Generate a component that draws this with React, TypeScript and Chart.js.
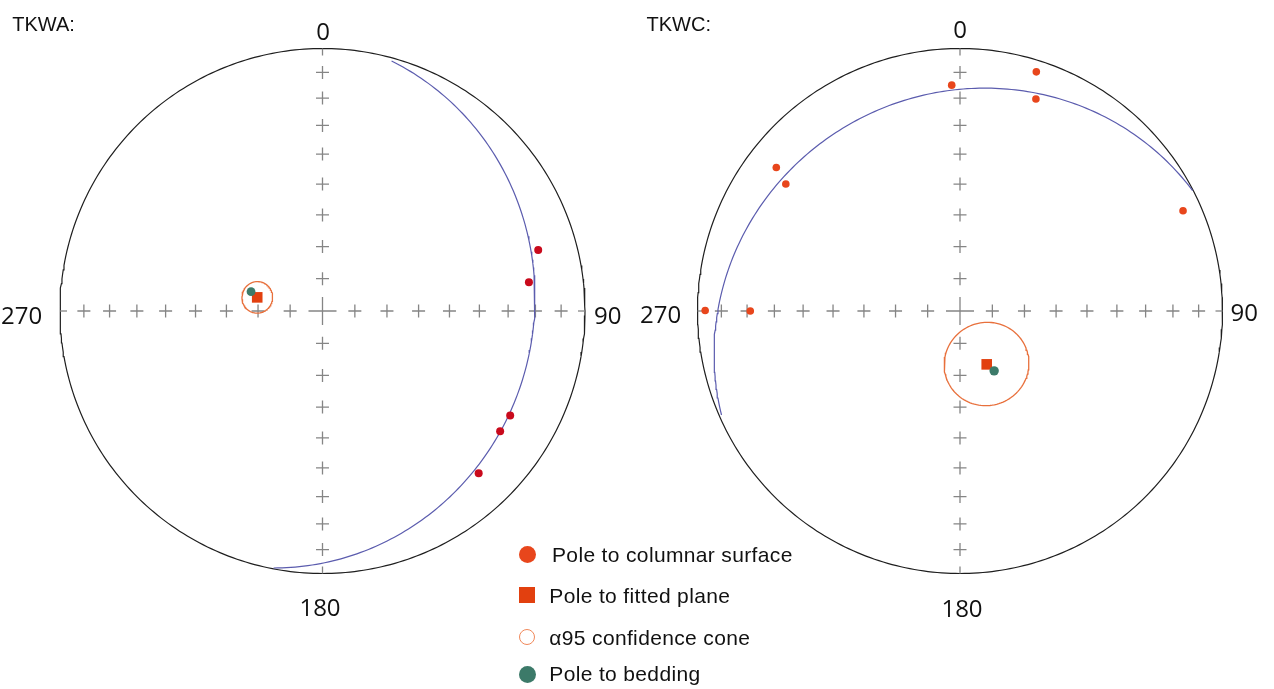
import React, { useEffect, useRef } from "react";
import { Chart, registerables } from "chart.js";

Chart.register(...registerables);

// ---------------- data ----------------
const netTitles = ["TKWA:", "TKWC:"];
const directionLabels = ["0", "90", "180", "270"];
const tickTrends = [0, 90, 180, 270];
const tickPlunges = [80, 70, 60, 50, 40, 30, 20, 10];

// TKWA (left net): trend / plunge in degrees
const tkwaColumnarTrends = [74.2, 82.1, 119.1, 124.1, 136.1];
const tkwaColumnarPlunges = [15.7, 21.7, 19.3, 19.4, 15.3];
const tkwaFittedPole = [281.8, 69.3];
const tkwaBeddingPole = [285.1, 67.0];
const tkwaAlpha95 = [4.8];
const tkwaPlaneArc = [3.9, 179.5];

// TKWC (right net)
const tkwcColumnarTrends = [357.9, 17.7, 19.7, 308.0, 306.1, 270.1, 270.0, 65.8];
const tkwcColumnarPlunges = [15.0, 4.9, 15.3, 12.2, 19.0, 3.3, 21.2, 7.6];
const tkwcFittedPole = [153.4, 71.5];
const tkwcBeddingPole = [150.3, 68.6];
const tkwcAlpha95 = [13.0];
const tkwcPlaneArc = [3.2, 180];

const legendLabels = [
  "Pole to columnar surface",
  "Pole to fitted plane",
  "α95 confidence cone",
  "Pole to bedding",
];

// ---------------- layout ----------------
const W = 1274;
const H = 689;
const R_PX = 262.5;
const LEFT_CX = 322.5;
const RIGHT_CX = 960;
const CY = 311;
const NET_OFFSETS = [0, (RIGHT_CX - LEFT_CX) / R_PX];

const DEG = Math.PI / 180;

type V3 = [number, number, number];

function vecFromTP(t: number, p: number): V3 {
  return [Math.cos(p * DEG) * Math.sin(t * DEG), Math.cos(p * DEG) * Math.cos(t * DEG), Math.sin(p * DEG)];
}

function projectVec(v: V3, ox: number) {
  let [e, n, d] = v;
  if (d < 0) {
    e = -e;
    n = -n;
    d = -d;
  }
  const h = Math.hypot(e, n);
  const r = Math.sqrt(Math.max(0, 1 - d));
  if (h < 1e-12) return { x: ox, y: 0 };
  return { x: ox + (r * e) / h, y: (r * n) / h };
}

function projectTP(t: number, p: number, ox: number) {
  return projectVec(vecFromTP(t, p), ox);
}

function greatCircle(pole: number[], arc: number[], ox: number) {
  const dd = pole[0] + 180;
  const dip = 90 - pole[1];
  const strike = dd - 90;
  const s: V3 = [Math.sin(strike * DEG), Math.cos(strike * DEG), 0];
  const d: V3 = [Math.cos(dip * DEG) * Math.sin(dd * DEG), Math.cos(dip * DEG) * Math.cos(dd * DEG), Math.sin(dip * DEG)];
  const pts: { x: number; y: number }[] = [];
  for (let f = arc[0]; f <= arc[1] + 1e-9; f += 1) {
    const c = Math.cos(f * DEG);
    const sn = Math.sin(f * DEG);
    pts.push(projectVec([s[0] * c + d[0] * sn, s[1] * c + d[1] * sn, s[2] * c + d[2] * sn], ox));
  }
  return pts;
}

function smallCircle(pole: number[], alpha: number, ox: number) {
  const v = vecFromTP(pole[0], pole[1]);
  const hl = Math.hypot(v[0], v[1]);
  const u: V3 = [v[1] / hl, -v[0] / hl, 0];
  const w: V3 = [v[1] * u[2] - v[2] * u[1], v[2] * u[0] - v[0] * u[2], v[0] * u[1] - v[1] * u[0]];
  const ca = Math.cos(alpha * DEG);
  const sa = Math.sin(alpha * DEG);
  const pts: { x: number; y: number }[] = [];
  for (let f = 0; f <= 360; f += 3) {
    const c = Math.cos(f * DEG);
    const sn = Math.sin(f * DEG);
    pts.push(
      projectVec(
        [
          ca * v[0] + sa * (c * u[0] + sn * w[0]),
          ca * v[1] + sa * (c * u[1] + sn * w[1]),
          ca * v[2] + sa * (c * u[2] + sn * w[2]),
        ],
        ox
      )
    );
  }
  return pts;
}

function primitive(ox: number) {
  const pts: { x: number; y: number }[] = [];
  for (let t = 0; t <= 360; t += 1) pts.push(projectTP(t, 0, ox));
  return pts;
}

const lineDs = (data: any[], color: string, width: number, order: number) => ({
  type: "scatter" as const,
  data,
  showLine: true,
  pointRadius: 0,
  borderColor: color,
  borderWidth: width,
  fill: false,
  tension: 0,
  order,
});

export default function App() {
  const ref = useRef<HTMLCanvasElement>(null);

  useEffect(() => {
    const crossPts: any[] = [];
    const centerPts: any[] = [];
    const edgePts: any[] = [];
    const edgeRot: number[] = [];
    NET_OFFSETS.forEach((ox) => {
      tickTrends.forEach((t) => {
        tickPlunges.forEach((p) => crossPts.push(projectTP(t, p, ox)));
        edgePts.push(projectTP(t, 0, ox));
        edgeRot.push((t + 90) % 360);
      });
      centerPts.push(projectTP(0, 90, ox));
    });

    const leftCol = tkwaColumnarTrends.map((t, i) => projectTP(t, tkwaColumnarPlunges[i], NET_OFFSETS[0]));
    const rightCol = tkwcColumnarTrends.map((t, i) => projectTP(t, tkwcColumnarPlunges[i], NET_OFFSETS[1]));
    const fitted = [
      projectTP(tkwaFittedPole[0], tkwaFittedPole[1], NET_OFFSETS[0]),
      projectTP(tkwcFittedPole[0], tkwcFittedPole[1], NET_OFFSETS[1]),
    ];
    const bedding = [
      projectTP(tkwaBeddingPole[0], tkwaBeddingPole[1], NET_OFFSETS[0]),
      projectTP(tkwcBeddingPole[0], tkwcBeddingPole[1], NET_OFFSETS[1]),
    ];

    const chart = new Chart(ref.current as HTMLCanvasElement, {
      type: "scatter",
      data: {
        datasets: [
          {
            data: bedding,
            pointStyle: "circle",
            pointRadius: [4.4, 4.7],
            pointBackgroundColor: "#3c7a69",
            pointBorderWidth: 0,
            order: 0,
          },
          {
            data: fitted,
            pointStyle: "rect",
            pointRadius: 7.5,
            pointBackgroundColor: "#e2400f",
            pointBorderWidth: 0,
            order: 1,
          },
          {
            data: leftCol,
            pointStyle: "circle",
            pointRadius: 4,
            pointBackgroundColor: "#c90a1c",
            pointBorderWidth: 0,
            order: 1,
          },
          {
            data: rightCol,
            pointStyle: "circle",
            pointRadius: 3.8,
            pointBackgroundColor: "#e8461c",
            pointBorderWidth: 0,
            order: 1,
          },
          lineDs(smallCircle(tkwaFittedPole, tkwaAlpha95[0], NET_OFFSETS[0]), "#e8703c", 1.3, 2),
          lineDs(smallCircle(tkwcFittedPole, tkwcAlpha95[0], NET_OFFSETS[1]), "#e8703c", 1.3, 2),
          lineDs(greatCircle(tkwaFittedPole, tkwaPlaneArc, NET_OFFSETS[0]), "#5b5cae", 1.2, 3),
          lineDs(greatCircle(tkwcFittedPole, tkwcPlaneArc, NET_OFFSETS[1]), "#5b5cae", 1.2, 3),
          {
            data: crossPts,
            pointStyle: "cross",
            pointRadius: 6.5,
            pointBorderColor: "#858585",
            pointBorderWidth: 1.3,
            order: 4,
          },
          {
            data: centerPts,
            pointStyle: "cross",
            pointRadius: 14,
            pointBorderColor: "#858585",
            pointBorderWidth: 1.3,
            order: 4,
          },
          {
            data: edgePts,
            pointStyle: "dash",
            pointRadius: 7,
            pointRotation: edgeRot,
            pointBorderColor: "#858585",
            pointBorderWidth: 1.3,
            order: 4,
          },
          lineDs(primitive(NET_OFFSETS[0]), "#1e1e1e", 1.2, 5),
          lineDs(primitive(NET_OFFSETS[1]), "#1e1e1e", 1.2, 5),
        ] as any,
      },
      options: {
        animation: false,
        responsive: false,
        devicePixelRatio: 1,
        events: [],
        layout: { padding: 0, autoPadding: false },
        plugins: { legend: { display: false }, tooltip: { enabled: false }, title: { display: false } },
        scales: {
          x: { type: "linear", display: false, min: -LEFT_CX / R_PX, max: (W - LEFT_CX) / R_PX },
          y: { type: "linear", display: false, min: -(H - CY) / R_PX, max: CY / R_PX },
        },
      } as any,
    });
    return () => chart.destroy();
  }, []);

  const dirFont = '24px "Open Sans", "DejaVu Sans", sans-serif';
  const sansFont = '"Liberation Sans", Arial, sans-serif';
  const abs = (extra: React.CSSProperties): React.CSSProperties => ({
    position: "absolute",
    lineHeight: 1,
    whiteSpace: "nowrap",
    color: "#111",
    ...extra,
  });

  const legendBaselines = [560.7, 601.7, 643.3, 679.3];
  const legendTextLeft = [552, 549.3, 549.3, 549.3];
  const markerCY = [554, 594.7, 637.3, 674];

  return (
    <div style={{ position: "absolute", left: 0, top: 0, width: W, height: H, background: "#fff", overflow: "hidden" }}>
      <canvas ref={ref} width={W} height={H} style={{ position: "absolute", left: 0, top: 0, width: W, height: H }} />

      <div style={abs({ left: 12.3, top: 13, font: `20px ${sansFont}` })}>{netTitles[0]}</div>
      <div style={abs({ left: 646.5, top: 13, font: `20px ${sansFont}` })}>{netTitles[1]}</div>

      {/* left net direction labels */}
      <div style={abs({ left: 323 - 50, width: 100, textAlign: "center", top: 13.7, font: dirFont })}>{directionLabels[0]}</div>
      <div style={abs({ left: 594, top: 298, font: dirFont })}>{directionLabels[1]}</div>
      <div style={abs({ left: 320 - 50, width: 100, textAlign: "center", top: 590.4, font: dirFont })}>{directionLabels[2]}</div>
      <div style={abs({ left: 1, top: 298, font: dirFont })}>{directionLabels[3]}</div>

      {/* right net direction labels */}
      <div style={abs({ left: 960 - 50, width: 100, textAlign: "center", top: 12.2, font: dirFont })}>{directionLabels[0]}</div>
      <div style={abs({ left: 1230.5, top: 295.4, font: dirFont })}>{directionLabels[1]}</div>
      <div style={abs({ left: 962 - 50, width: 100, textAlign: "center", top: 590.5, font: dirFont })}>{directionLabels[2]}</div>
      <div style={abs({ left: 640, top: 296.7, font: dirFont })}>{directionLabels[3]}</div>

      {/* legend */}
      {legendLabels.map((lab, i) => (
        <div
          key={lab}
          style={abs({
            left: legendTextLeft[i],
            top: legendBaselines[i] - 17.8,
            font: `21px ${sansFont}`,
            letterSpacing: "0.35px",
          })}
        >
          {lab}
        </div>
      ))}
      <div style={{ position: "absolute", left: 527 - 8.5, top: markerCY[0] - 8.5, width: 17, height: 17, borderRadius: "50%", background: "#e8461c" }} />
      <div style={{ position: "absolute", left: 527 - 8, top: markerCY[1] - 8, width: 16, height: 16, background: "#e2400f" }} />
      <div
        style={{
          position: "absolute",
          left: 527 - 8,
          top: markerCY[2] - 8,
          width: 16,
          height: 16,
          borderRadius: "50%",
          border: "1.5px solid #f0885a",
          boxSizing: "border-box",
        }}
      />
      <div style={{ position: "absolute", left: 527 - 8.5, top: markerCY[3] - 8.5, width: 17, height: 17, borderRadius: "50%", background: "#3c7a69" }} />
    </div>
  );
}
